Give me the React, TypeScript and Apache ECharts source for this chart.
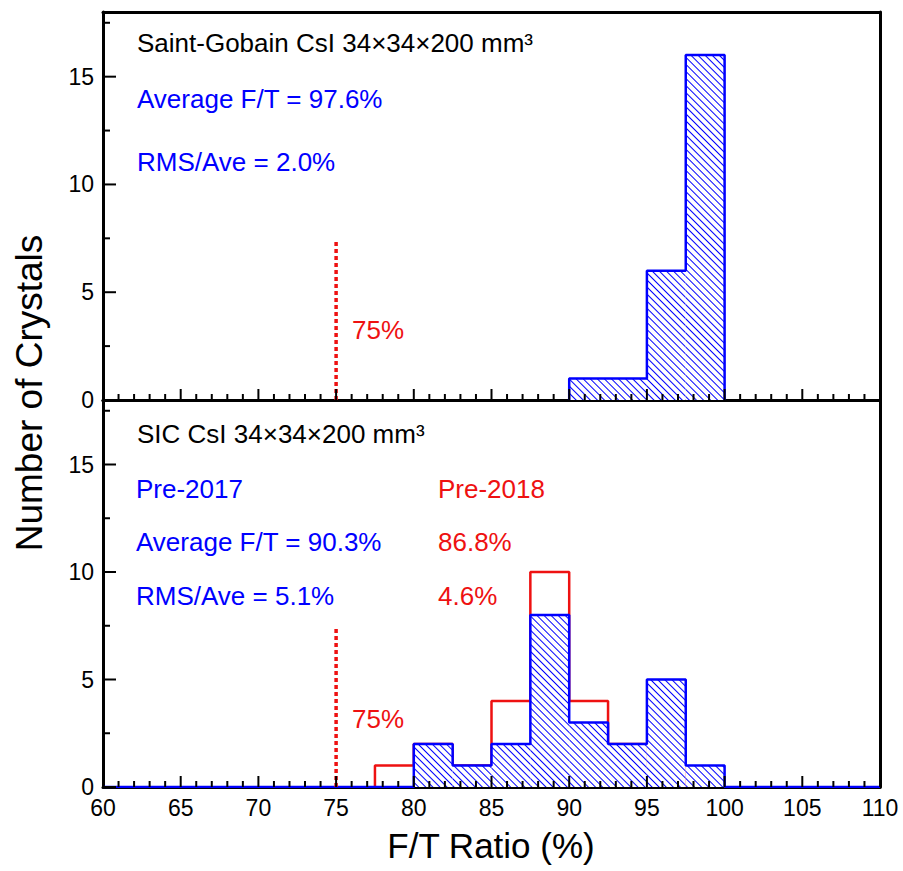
import React, { useEffect, useRef } from 'react';
import * as echarts from 'echarts';

// ---- data ----
const xMin = 60;
const xMax = 110;
const xInterval = 5;
const yMax = 18;
const yInterval = 5;
const binWidth = 2.5;
const binStarts = [77.5, 80, 82.5, 85, 87.5, 90, 92.5, 95, 97.5];
const saintGobainCounts = [0, 0, 0, 0, 0, 1, 1, 6, 16];
const sicPre2017Counts = [0, 2, 1, 2, 8, 3, 2, 5, 1];
const sicPre2018Counts = [1, 2, 1, 4, 10, 4, 2, 1, 0];
const thresholdX = 75;
const thresholdTop = 7.4;
const xMajorTicks = [60, 65, 70, 75, 80, 85, 90, 95, 100, 105, 110];
const yMajorTicks = [0, 5, 10, 15];
const yMinorTicks = [2.5, 7.5, 12.5, 17.5];

const BLUE = '#0000ff';
const RED = '#ee1111';
const FONT = '"Liberation Sans", Arial, sans-serif';

const W = 903;
const H = 871;
const GL = 103;
const GR = 23;
const TOP_H = 388;
const BOT_H = 387;

function barData(counts: number[]) {
  return binStarts
    .map((s, i) => [s + binWidth / 2, counts[i]])
    .filter((d) => d[1] > 0);
}

function outline(counts: number[], from?: number, to?: number) {
  let first = counts.findIndex((c) => c > 0);
  let last = counts.length - 1;
  while (last > 0 && counts[last] === 0) last--;
  const pts: number[][] = [];
  if (from !== undefined) pts.push([from, 0]);
  pts.push([binStarts[first], 0]);
  for (let i = first; i <= last; i++) {
    pts.push([binStarts[i], counts[i]]);
    pts.push([binStarts[i] + binWidth, counts[i]]);
  }
  pts.push([binStarts[last] + binWidth, 0]);
  if (to !== undefined) pts.push([to, 0]);
  return pts;
}

// minor x ticks: every unit between the major ticks
const xMinorTicks: number[] = [];
for (let v = xMin + 1; v < xMax; v++) if (v % xInterval !== 0) xMinorTicks.push(v);

export default function App() {
  const ref = useRef<HTMLDivElement>(null);
  useEffect(() => {
    if (!ref.current) return;
    const chart = echarts.init(ref.current, undefined, { renderer: 'svg' });
    const gridWidth = W - GL - GR;
    const barW = (gridWidth / (xMax - xMin)) * binWidth;

    const border = { show: true, onZero: false, lineStyle: { color: '#000', width: 3 } };

    const xAxisBase = (gi: number, showLabel: boolean) => ({
      type: 'value',
      gridIndex: gi,
      min: xMin,
      max: xMax,
      interval: xInterval,
      position: 'bottom',
      axisLine: border,
      axisTick: { show: false },
      splitLine: { show: false },
      axisLabel: { show: showLabel, color: '#000', fontSize: 23, fontFamily: FONT, margin: 9 },
    });
    const xTop = (gi: number) => ({
      type: 'value',
      gridIndex: gi,
      min: xMin,
      max: xMax,
      interval: xInterval,
      position: 'top',
      axisLine: border,
      axisTick: { show: false },
      splitLine: { show: false },
      axisLabel: { show: false },
    });
    const yMajor = (gi: number) => ({
      type: 'value',
      gridIndex: gi,
      min: 0,
      max: yMax,
      interval: yInterval,
      position: 'left',
      axisLine: border,
      axisTick: { show: false },
      splitLine: { show: false },
      axisLabel: {
        color: '#000',
        fontSize: 23,
        fontFamily: FONT,
        margin: 9,
        showMaxLabel: false,
        formatter: (v: number) => (v % yInterval === 0 ? String(v) : ''),
      },
    });
    const yRight = (gi: number) => ({
      type: 'value',
      gridIndex: gi,
      min: 0,
      max: yMax,
      interval: yInterval,
      position: 'right',
      axisLine: border,
      axisTick: { show: false },
      splitLine: { show: false },
      axisLabel: { show: false },
    });

    const decal = {
      symbol: 'rect',
      symbolSize: 1,
      color: BLUE,
      dashArrayX: [1, 0],
      dashArrayY: [1, 4],
      rotation: Math.PI / 4,
    };

    // tick marks: short two-point line series, in data units of the axes
    const tickSeries = (xi: number, yi: number, gridH: number) => {
      const yPerPx = yMax / gridH;
      const xPerPx = (xMax - xMin) / gridWidth;
      const seg = (a: number[], b: number[]) => ({
        type: 'line',
        xAxisIndex: xi,
        yAxisIndex: yi,
        data: [a, b],
        symbol: 'none',
        silent: true,
        lineStyle: { color: '#000', width: 2 },
        z: 4,
      });
      const out: any[] = [];
      xMajorTicks.forEach((x) => out.push(seg([x, 0], [x, 11 * yPerPx])));
      xMinorTicks.forEach((x) => out.push(seg([x, 0], [x, 6 * yPerPx])));
      yMajorTicks.forEach((y) => out.push(seg([xMin, y], [xMin + 13 * xPerPx, y])));
      yMinorTicks.forEach((y) => out.push(seg([xMin, y], [xMin + 7 * xPerPx, y])));
      return out;
    };

    const textEl = (text: string, x: number, y: number, fill: string, size = 26) => ({
      type: 'text',
      x,
      y,
      z: 100,
      style: { text, fill, font: `${size}px ${FONT}`, align: 'left', verticalAlign: 'middle' },
    });

    const texts: any[] = [
      textEl('Saint-Gobain CsI 34\u00d734\u00d7200 mm\u00b3', 137, 43, '#000'),
      textEl('Average F/T = 97.6%', 137, 99, BLUE),
      textEl('RMS/Ave = 2.0%', 137, 162, BLUE),
      textEl('75%', 352, 330, RED),
      textEl('SIC CsI 34\u00d734\u00d7200 mm\u00b3', 137, 434, '#000'),
      textEl('Pre-2017', 136, 489, BLUE),
      textEl('Pre-2018', 438, 489, RED),
      textEl('Average F/T = 90.3%', 136, 542, BLUE),
      textEl('86.8%', 438, 542, RED),
      textEl('RMS/Ave = 5.1%', 136, 596, BLUE),
      textEl('4.6%', 438, 596, RED),
      textEl('75%', 352, 719, RED),
      {
        type: 'text',
        x: 29,
        y: 393,
        rotation: Math.PI / 2,
        style: { text: 'Number of Crystals', fill: '#000', font: `37px ${FONT}`, align: 'center', verticalAlign: 'middle' },
      },
      {
        type: 'text',
        x: 491,
        y: 845,
        style: { text: 'F/T Ratio (%)', fill: '#000', font: `35px ${FONT}`, align: 'center', verticalAlign: 'middle' },
      },
    ];

    const option: any = {
      animation: false,
      backgroundColor: '#fff',
      grid: [
        { left: GL, right: GR, top: 12, height: TOP_H, show: false },
        { left: GL, right: GR, top: 12 + TOP_H, height: BOT_H, show: false },
      ],
      xAxis: [xAxisBase(0, false), xTop(0), xAxisBase(1, true), xTop(1)],
      yAxis: [yMajor(0), yRight(0), yMajor(1), yRight(1)],
      series: [
        { type: 'bar', xAxisIndex: 0, yAxisIndex: 0, data: barData(saintGobainCounts), barWidth: barW, itemStyle: { color: '#fff', decal }, z: 2 },
        { type: 'line', xAxisIndex: 0, yAxisIndex: 0, data: outline(saintGobainCounts), symbol: 'none', lineStyle: { color: BLUE, width: 2.5 }, z: 3 },
        { type: 'line', xAxisIndex: 0, yAxisIndex: 0, data: [[thresholdX, 0], [thresholdX, thresholdTop]], symbol: 'none', lineStyle: { color: RED, width: 3.5, type: [4, 3] }, z: 3 },
        ...tickSeries(0, 0, TOP_H),
        { type: 'line', xAxisIndex: 2, yAxisIndex: 2, data: outline(sicPre2018Counts), symbol: 'none', lineStyle: { color: RED, width: 2.5 }, z: 1 },
        { type: 'bar', xAxisIndex: 2, yAxisIndex: 2, data: barData(sicPre2017Counts), barWidth: barW, itemStyle: { color: '#fff', decal }, z: 2 },
        { type: 'line', xAxisIndex: 2, yAxisIndex: 2, data: outline(sicPre2017Counts, xMin, xMax), symbol: 'none', lineStyle: { color: BLUE, width: 2.5 }, z: 3 },
        { type: 'line', xAxisIndex: 2, yAxisIndex: 2, data: [[thresholdX, 0], [thresholdX, thresholdTop]], symbol: 'none', lineStyle: { color: RED, width: 3.5, type: [4, 3] }, z: 3 },
        ...tickSeries(2, 2, BOT_H),
      ],
      graphic: texts,
    };
    chart.setOption(option);
    return () => chart.dispose();
  }, []);
  return (
    <div ref={ref} style={{ position: 'fixed', left: 0, top: 0, width: W, height: H, background: '#fff' }} />
  );
}
